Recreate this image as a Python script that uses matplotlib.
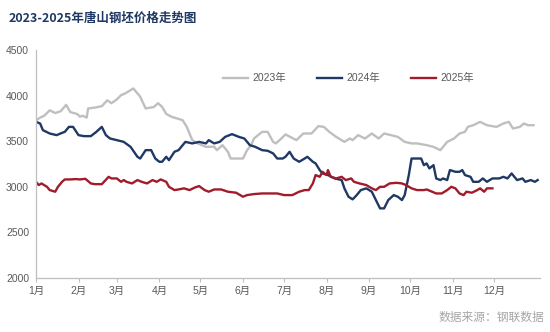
import matplotlib
matplotlib.use("Agg")
import matplotlib.pyplot as plt

plt.rcParams['font.family'] = ['Liberation Sans', 'Noto Sans CJK SC', 'DejaVu Sans']

# day of year (0 = 1 Jan) and price
days_2023 = [0, 3, 6, 10, 14, 18, 22, 25, 30, 32, 34, 37, 38, 43, 48, 52, 55, 59, 62, 65,
             71, 76, 80, 86, 89, 92, 95, 99, 103, 107, 110, 114, 118, 124, 130, 132, 136, 140,
             142, 151, 154, 157, 159, 165, 169, 173, 175, 179, 182, 190, 195, 201, 206, 210,
             214, 219, 225, 229, 231, 235, 240, 245, 250, 254, 259, 264, 269, 274, 278, 285,
             290, 295, 297, 300, 305, 309, 313, 315, 319, 324, 329, 336, 341, 345, 348, 353,
             356, 359, 363]
price_2023 = [3730, 3760, 3780, 3840, 3810, 3830, 3900, 3820, 3800, 3770, 3780, 3760, 3860,
              3870, 3885, 3950, 3918, 3960, 4006, 4025, 4080, 3990, 3860, 3877, 3918, 3878,
              3800, 3768, 3750, 3731, 3658, 3512, 3476, 3438, 3440, 3402, 3457, 3384, 3310,
              3310, 3402, 3457, 3530, 3603, 3603, 3493, 3476, 3530, 3575, 3512, 3585, 3585,
              3666, 3658, 3603, 3548, 3493, 3530, 3512, 3567, 3530, 3585, 3530, 3585, 3567,
              3548, 3493, 3476, 3476, 3457, 3438, 3402, 3438, 3493, 3530, 3585, 3603, 3658,
              3676, 3713, 3676, 3658, 3695, 3713, 3640, 3658, 3695, 3676, 3676]

days_2024 = [0, 3, 5, 10, 15, 19, 21, 24, 27, 31, 35, 40, 44, 48, 51, 54, 59, 64, 69, 74,
             76, 80, 84, 87, 90, 92, 95, 97, 101, 104, 109, 114, 119, 124, 126, 130, 134, 138,
             143, 148, 152, 156, 160, 165, 169, 173, 176, 180, 182, 185, 188, 192, 196, 198,
             202, 204, 207, 209, 213, 218, 223, 225, 228, 231, 234, 237, 241, 245, 248, 251,
             254, 257, 261, 264, 267, 269, 272, 274, 281, 283, 285, 287, 290, 292, 295, 297,
             300, 302, 306, 309, 311, 313, 317, 319, 323, 326, 329, 333, 338, 341, 344, 347,
             351, 355, 357, 361, 364, 366]
price_2024 = [3713, 3695, 3622, 3585, 3567, 3592, 3603, 3658, 3658, 3567, 3556, 3556, 3603,
              3658, 3567, 3530, 3512, 3493, 3438, 3329, 3310, 3402, 3402, 3310, 3274, 3274,
              3329, 3292, 3384, 3402, 3493, 3476, 3493, 3476, 3512, 3476, 3493, 3548, 3578,
              3548, 3530, 3457, 3438, 3402, 3395, 3366, 3310, 3310, 3329, 3384, 3310, 3274,
              3310, 3329, 3274, 3256, 3183, 3146, 3128, 3091, 3073, 2982, 2890, 2861, 2908,
              2963, 2982, 2945, 2853, 2762, 2762, 2853, 2908, 2890, 2853, 2908, 3128, 3310,
              3310, 3237, 3256, 3201, 3237, 3091, 3073, 3091, 3073, 3183, 3164, 3164, 3183,
              3128, 3109, 3054, 3054, 3091, 3054, 3091, 3091, 3109, 3091, 3146, 3073, 3091,
              3054, 3073, 3054, 3073]

days_2025 = [0, 2, 4, 8, 10, 14, 16, 19, 21, 25, 29, 32, 36, 40, 43, 48, 53, 55, 59, 62,
             64, 66, 70, 74, 77, 81, 85, 88, 91, 95, 97, 101, 104, 108, 112, 116, 119, 123,
             126, 130, 135, 140, 146, 151, 154, 159, 165, 171, 176, 181, 187, 192, 196, 199,
             202, 204, 207, 209, 212, 213, 215, 219, 223, 226, 230, 232, 236, 241, 245, 248,
             251, 254, 258, 263, 267, 270, 274, 278, 283, 285, 289, 292, 296, 300, 303, 306,
             309, 312, 314, 318, 322, 324, 327, 329, 333]
price_2025 = [3054, 3018, 3036, 2999, 2963, 2945, 2999, 3054, 3080, 3080, 3084, 3080, 3087,
              3036, 3028, 3028, 3109, 3091, 3091, 3054, 3073, 3054, 3036, 3073, 3054, 3036,
              3073, 3054, 3080, 3054, 2999, 2963, 2970, 2982, 2963, 2992, 3007, 2963, 2945,
              2970, 2970, 2945, 2934, 2890, 2908, 2919, 2926, 2926, 2926, 2908, 2908, 2945,
              2963, 2963, 3036, 3128, 3109, 3164, 3128, 3183, 3109, 3091, 3109, 3073, 3091,
              3054, 3036, 3018, 2982, 2963, 2999, 2999, 3036, 3043, 3036, 3018, 2982, 2963,
              2963, 2970, 2945, 2926, 2926, 2963, 2999, 2982, 2926, 2908, 2945, 2934, 2963,
              2982, 2945, 2982, 2982]

month_starts = [0, 31, 59, 90, 120, 151, 181, 212, 243, 273, 304, 334]
month_labels = ['1月', '2月', '3月', '4月', '5月', '6月', '7月', '8月', '9月', '10月', '11月', '12月']
y_ticks = [2000, 2500, 3000, 3500, 4000, 4500]

fig = plt.figure(figsize=(5.5, 3.32), dpi=100)
ax = fig.add_axes([0.0655, 0.1636, 0.917, 0.685])

ax.plot(days_2023, price_2023, color='#bfbfbf', lw=1.7, label='2023年')
ax.plot(days_2024, price_2024, color='#1f3864', lw=1.7, label='2024年')
ax.plot(days_2025, price_2025, color='#a01c2c', lw=1.7, label='2025年')

ax.set_xlim(0, 368)
ax.set_ylim(2000, 4500)
ax.set_yticks(y_ticks)
ax.set_xticks(month_starts)
ax.set_xticklabels(month_labels)

for s in ['top', 'right']:
    ax.spines[s].set_visible(False)
for s in ['left', 'bottom']:
    ax.spines[s].set_color('#bfbfbf')
    ax.spines[s].set_linewidth(0.9)
ax.tick_params(axis='y', length=0, labelsize=7.5, labelcolor='#595959', pad=5)
ax.tick_params(axis='x', length=3, color='#bfbfbf', labelsize=7.5, labelcolor='#595959', pad=3)

ax.legend(loc='center', bbox_to_anchor=(0.62, 0.877), ncol=3, frameon=False,
          fontsize=7.5, handlelength=2.4, columnspacing=3.0, handletextpad=0.4,
          labelcolor='#595959')

fig.text(0.015, 0.945, '2023-2025年唐山钢坯价格走势图', fontsize=9, fontweight='bold',
         color='#1f3864', family=['Noto Sans CJK SC', 'DejaVu Sans'], va='center')
fig.text(0.99, 0.045, '数据来源：钢联数据', fontsize=8.5, color='#a6a6a6',
         family=['Noto Sans CJK SC', 'DejaVu Sans'], ha='right', va='center')

fig.savefig('out.png', dpi=100, facecolor='white')
